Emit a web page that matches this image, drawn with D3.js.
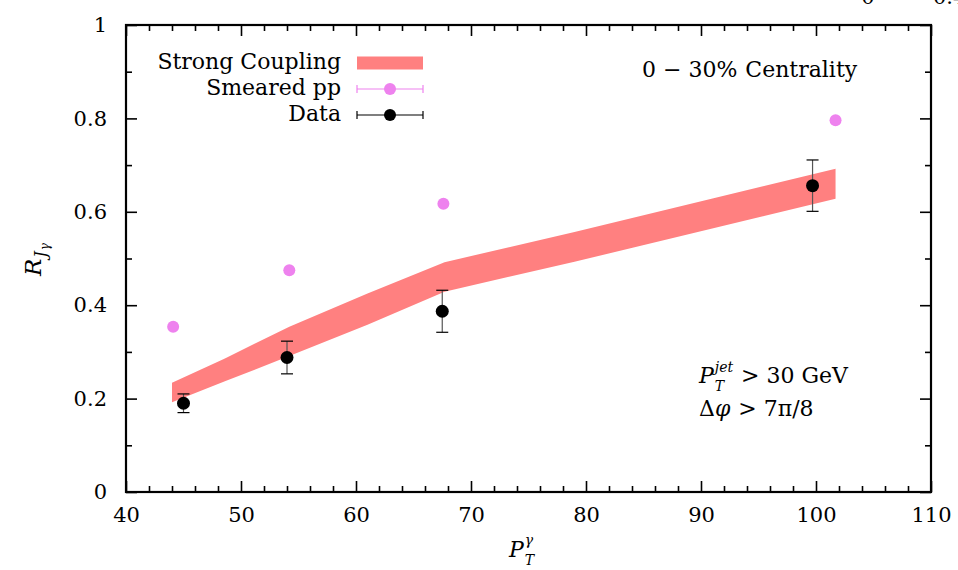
<!DOCTYPE html>
<html>
<head>
<meta charset="utf-8">
<script src="https://cdn.jsdelivr.net/npm/d3@7"></script>
<style>
  body { margin: 0; background: #fff; }
  svg text { font-family: "DejaVu Serif", "Liberation Serif", "Noto Serif", serif !important; fill: #000; }
</style>
</head>
<body>
<svg id="chart" width="958" height="570"></svg>
<script>
// Strong-coupling prediction band (lower / upper edge)
const bandX    = [44.0, 48.6, 54.2, 61.0, 67.7, 79.0, 101.7];
const bandLow  = [0.192, 0.237, 0.291, 0.358, 0.429, 0.493, 0.628];
const bandHigh = [0.234, 0.286, 0.354, 0.425, 0.492, 0.557, 0.692];

// Smeared pp reference
const ppX = [44.1, 54.2, 67.6, 101.7];
const ppY = [0.354, 0.475, 0.617, 0.796];

// Measured R_Jgamma with uncertainties
const dataX   = [45.0, 54.0, 67.5, 99.7];
const dataY   = [0.190, 0.288, 0.387, 0.656];
const dataErr = [0.020, 0.035, 0.045, 0.055];

// Axis ticks
const xTicks = [40, 50, 60, 70, 80, 90, 100, 110];
const xMinor = d3.range(42, 110, 2).filter(v => v % 10 !== 0);
const yTicks = [0, 0.2, 0.4, 0.6, 0.8, 1];
const yTickLabels = ["0", "0.2", "0.4", "0.6", "0.8", "1"];
const yMinor = [0.1, 0.3, 0.5, 0.7, 0.9];

const legendLabels = ["Strong Coupling", "Smeared pp", "Data"];

const bandColor = "#ff8080";
const ppColor = "#ee82ee";

const svg = d3.select("#chart");
const x = d3.scaleLinear().domain([40, 110]).range([126, 931]);
const y = d3.scaleLinear().domain([0, 1]).range([492, 25]);

const FS = 21;   // tick labels
const FT = 22;   // legend and annotations

// ---- band ----
const band = bandX.map((v, i) => ({ x: v, lo: bandLow[i], hi: bandHigh[i] }));
svg.append("path")
  .datum(band)
  .attr("fill", bandColor)
  .attr("d", d3.area().x(d => x(d.x)).y0(d => y(d.lo)).y1(d => y(d.hi)));

// ---- smeared pp points ----
svg.append("g").selectAll("circle")
  .data(ppX.map((v, i) => ({ x: v, y: ppY[i] })))
  .join("circle")
  .attr("cx", d => x(d.x)).attr("cy", d => y(d.y)).attr("r", 6)
  .attr("fill", ppColor);

// ---- data with error bars ----
const data = dataX.map((v, i) => ({ x: v, y: dataY[i], e: dataErr[i] }));
const eb = svg.append("g");
eb.selectAll("line.v").data(data).join("line")
  .attr("x1", d => x(d.x)).attr("x2", d => x(d.x))
  .attr("y1", d => y(d.y + d.e)).attr("y2", d => y(d.y - d.e))
  .attr("stroke", "#555").attr("stroke-width", 1.2);
eb.selectAll("line.t").data(data).join("line")
  .attr("x1", d => x(d.x) - 6).attr("x2", d => x(d.x) + 6)
  .attr("y1", d => y(d.y + d.e)).attr("y2", d => y(d.y + d.e))
  .attr("stroke", "#000").attr("stroke-width", 1.2);
eb.selectAll("line.b").data(data).join("line")
  .attr("x1", d => x(d.x) - 6).attr("x2", d => x(d.x) + 6)
  .attr("y1", d => y(d.y - d.e)).attr("y2", d => y(d.y - d.e))
  .attr("stroke", "#000").attr("stroke-width", 1.2);
eb.selectAll("circle").data(data).join("circle")
  .attr("cx", d => x(d.x)).attr("cy", d => y(d.y)).attr("r", 6.5)
  .attr("fill", "#000");

// ---- axes (ticks point inward on all four sides) ----
function styleAxis(g) {
  g.attr("font-family", null).attr("font-size", null);
  g.select(".domain").remove();
  g.selectAll("line").attr("stroke", "#000").attr("stroke-width", 1.6);
  g.selectAll("text").style("font-size", FS + "px").attr("fill", "#000");
}
const x0 = x.range()[0], x1 = x.range()[1], y0 = y.range()[0], y1 = y.range()[1];

svg.append("g").attr("transform", `translate(0,${y0})`)
  .call(d3.axisBottom(x).tickValues(xTicks).tickSize(-11).tickPadding(15).tickFormat(d3.format("d")))
  .call(styleAxis);
svg.append("g").attr("transform", `translate(0,${y0})`)
  .call(d3.axisBottom(x).tickValues(xMinor).tickSize(-6).tickFormat(""))
  .call(styleAxis);
svg.append("g").attr("transform", `translate(0,${y1})`)
  .call(d3.axisTop(x).tickValues(xTicks).tickSize(-11).tickFormat(""))
  .call(styleAxis);
svg.append("g").attr("transform", `translate(0,${y1})`)
  .call(d3.axisTop(x).tickValues(xMinor).tickSize(-6).tickFormat(""))
  .call(styleAxis);
svg.append("g").attr("transform", `translate(${x0},0)`)
  .call(d3.axisLeft(y).tickValues(yTicks).tickSize(-11).tickPadding(19)
    .tickFormat((d, i) => yTickLabels[i]))
  .call(styleAxis);
svg.append("g").attr("transform", `translate(${x0},0)`)
  .call(d3.axisLeft(y).tickValues(yMinor).tickSize(-6).tickFormat(""))
  .call(styleAxis);
svg.append("g").attr("transform", `translate(${x1},0)`)
  .call(d3.axisRight(y).tickValues(yTicks).tickSize(-11).tickFormat(""))
  .call(styleAxis);
svg.append("g").attr("transform", `translate(${x1},0)`)
  .call(d3.axisRight(y).tickValues(yMinor).tickSize(-6).tickFormat(""))
  .call(styleAxis);

// frame
svg.append("rect")
  .attr("x", x0).attr("y", y1).attr("width", x1 - x0).attr("height", y0 - y1)
  .attr("fill", "none").attr("stroke", "#000").attr("stroke-width", 2.2);

// ---- legend ----
const legX = 341, sx0 = 357, sx1 = 423, sxm = 390;
const rowY = [63, 89, 115];
const leg = svg.append("g");
leg.selectAll("text").data(legendLabels).join("text")
  .attr("x", legX).attr("y", (d, i) => rowY[i] + 6)
  .attr("text-anchor", "end").style("font-size", FT + "px").text(d => d);
leg.append("rect").attr("x", sx0).attr("y", rowY[0] - 6.5).attr("width", sx1 - sx0).attr("height", 13)
  .attr("fill", bandColor);
[[rowY[1], ppColor], [rowY[2], "#000"]].forEach(([ry, c]) => {
  leg.append("line").attr("x1", sx0).attr("x2", sx1).attr("y1", ry).attr("y2", ry)
    .attr("stroke", c).attr("stroke-width", 1.2);
  [sx0, sx1].forEach(px => leg.append("line").attr("x1", px).attr("x2", px)
    .attr("y1", ry - 4).attr("y2", ry + 4).attr("stroke", c).attr("stroke-width", 1.2));
  leg.append("circle").attr("cx", sxm).attr("cy", ry).attr("r", 6).attr("fill", c);
});

// ---- math-style text helper: runs of pieces laid out left to right ----
function mathText(g, px, py, pieces) {
  let cx = px;
  let stackStart = null, stackW = 0;
  pieces.forEach(p => {
    const size = p.size || FT;
    const t = g.append("text")
      .attr("x", p.stack === "second" ? stackStart : cx)
      .attr("y", py + (p.dy || 0))
      .style("font-size", size + "px")
      .style("font-style", p.it ? "italic" : "normal")
      .text(p.t);
    const w = t.node().getComputedTextLength() + (p.gap || 0);
    if (p.stack === "first") { stackStart = cx; stackW = w; }
    else if (p.stack === "second") { cx = stackStart + Math.max(stackW, w); }
    else cx += w;
  });
  return cx;
}

// Centrality label
mathText(svg.append("g"), 642, 77, [
  { t: "0 \u2212 30%", gap: 8 },
  { t: "Centrality" }
]);

// Cuts annotation
mathText(svg.append("g"), 699, 383, [
  { t: "P", it: true, gap: 1 },
  { t: "jet", it: true, size: 14, dy: -11, stack: "first", gap: 8 },
  { t: "T", it: true, size: 14, dy: 8, stack: "second", gap: 8 },
  { t: "> 30 GeV" }
]);
mathText(svg.append("g"), 699, 416, [
  { t: "\u0394", gap: 0 },
  { t: "\u03c6", it: true, gap: 8 },
  { t: "> 7\u03c0/8" }
]);

// x-axis title
mathText(svg.append("g"), 509, 557, [
  { t: "P", it: true, gap: 1 },
  { t: "\u03b3", it: true, size: 14, dy: -12, stack: "first" },
  { t: "T", it: true, size: 14, dy: 8, stack: "second" }
]);

// y-axis title (rotated)
const yl = svg.append("g").attr("transform", "translate(41,276) rotate(-90)");
mathText(yl, 0, 0, [
  { t: "R", it: true, size: 23, gap: 1 },
  { t: "J", it: true, size: 16, dy: 5, gap: 1 },
  { t: "\u03b3", it: true, size: 12, dy: 8 }
]);

// partially visible label above the frame
svg.append("text").attr("x", 868).attr("y", 4).attr("text-anchor", "middle")
  .style("font-size", FS + "px").text("0");
svg.append("text").attr("x", 933).attr("y", 4)
  .style("font-size", FS + "px").text("0.4");
</script>
</body>
</html>
